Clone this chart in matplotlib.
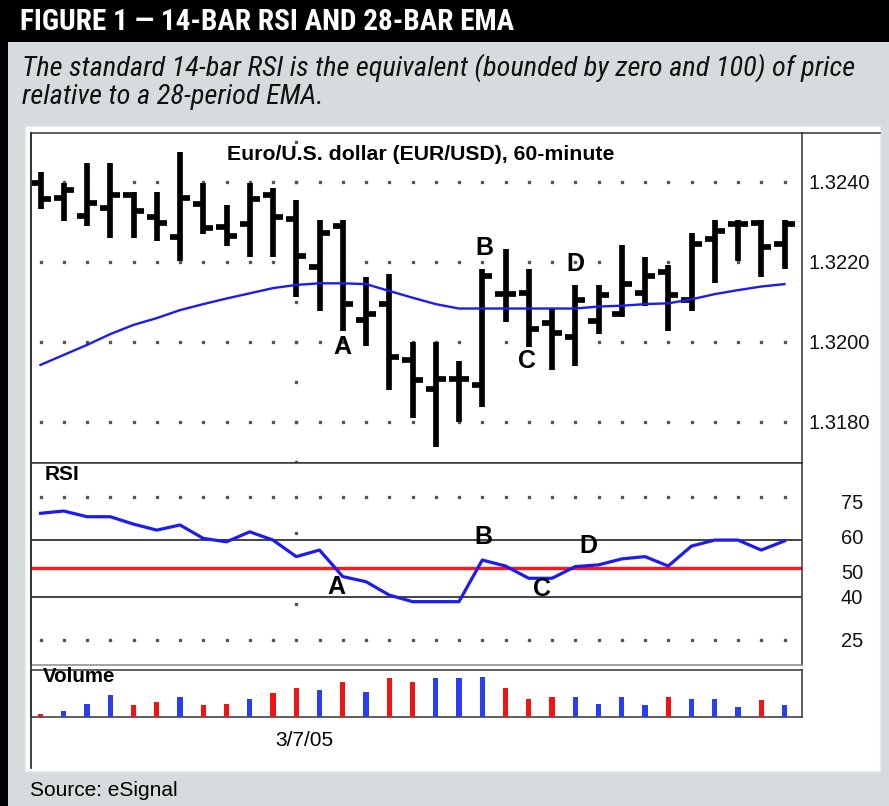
import matplotlib
matplotlib.use('Agg')
import matplotlib.pyplot as plt
from matplotlib import font_manager
from matplotlib.patches import Rectangle
from matplotlib.lines import Line2D
import matplotlib.transforms as mtransforms
import numpy as np

# ---------------- data ----------------
opens = [1.32398, 1.32359, 1.32314, 1.32334, 1.32367, 1.32313, 1.32263, 1.32344, 1.32286, 1.32294,
         1.32367, 1.32306, 1.32188, 1.32289, 1.32054, 1.32094, 1.31954, 1.31883, 1.31906, 1.31892,
         1.32119, 1.32123, 1.32048, 1.32013, 1.32053, 1.32069, 1.32123, 1.32175, 1.32104, 1.32256,
         1.32294, 1.32298, 1.32244]
highs = [1.32425, 1.32398, 1.32446, 1.32446, 1.32375, 1.32375, 1.32475, 1.32398, 1.32342, 1.32396,
         1.32384, 1.32354, 1.32304, 1.32304, 1.32163, 1.32169, 1.32000, 1.32000, 1.31953, 1.32183,
         1.32233, 1.32183, 1.32081, 1.32142, 1.32142, 1.32242, 1.32213, 1.32192, 1.32271, 1.32304,
         1.32304, 1.32304, 1.32304]
lows = [1.32331, 1.32302, 1.32289, 1.32260, 1.32260, 1.32252, 1.32203, 1.32269, 1.32239, 1.32211,
        1.32211, 1.32111, 1.32078, 1.32028, 1.31989, 1.31879, 1.31809, 1.31738, 1.31800, 1.31838,
        1.32050, 1.31988, 1.31929, 1.31939, 1.32019, 1.32061, 1.32090, 1.32028, 1.32078, 1.32148,
        1.32203, 1.32161, 1.32181]
closes = [1.32356, 1.32379, 1.32346, 1.32367, 1.32327, 1.32296, 1.32359, 1.32285, 1.32264, 1.32356,
          1.32313, 1.32214, 1.32271, 1.32094, 1.32069, 1.31963, 1.31904, 1.31906, 1.31906, 1.32164,
          1.32119, 1.32031, 1.32023, 1.32104, 1.32117, 1.32144, 1.32164, 1.32117, 1.32244, 1.32278,
          1.32294, 1.32236, 1.32294]
ema28 = [1.31942, 1.31967, 1.31992, 1.32019, 1.32042, 1.32059, 1.32079, 1.32094, 1.32108, 1.32121,
         1.32134, 1.32142, 1.32146, 1.32146, 1.32144, 1.32127, 1.32110, 1.32094, 1.32083, 1.32083,
         1.32083, 1.32083, 1.32083, 1.32083, 1.32088, 1.32090, 1.32094, 1.32096, 1.32106, 1.32119,
         1.32129, 1.32138, 1.32144]
rsi14 = [69.3, 70.1, 68.1, 68.1, 65.5, 63.4, 65.2, 60.5, 59.3, 62.8, 59.9, 54.1, 56.4, 47.1, 45.3,
         40.6, 38.3, 38.3, 38.3, 52.9, 50.8, 46.5, 46.5, 50.6, 51.2, 53.3, 54.1, 50.8, 57.8, 59.9,
         59.9, 56.4, 59.6]
volume = [330, 570, 1330, 2230, 1170, 1500, 2000, 1170, 1330, 1830, 2400, 2870, 2700, 3500, 2500,
          3900, 3500, 3900, 3900, 4030, 2870, 1830, 2000, 2000, 1330, 2000, 1170, 2000, 1830, 1830,
          1030, 1700, 1200]
vol_dir = ['d', 'u', 'u', 'u', 'd', 'd', 'u', 'd', 'd', 'u', 'd', 'd', 'u', 'd', 'u', 'd', 'd',
           'u', 'u', 'u', 'd', 'd', 'd', 'u', 'u', 'u', 'u', 'd', 'u', 'u', 'u', 'd', 'u']
price_ticks = [1.3180, 1.3200, 1.3220, 1.3240]
rsi_ticks = [25, 40, 50, 60, 75]
rsi_levels = [40, 60]
rsi_mid = 50
session_start = 11          # bar index where 3/7/05 begins
date_label = '3/7/05'
price_marks = {'A': (13.0, 1.31986), 'B': (19.08, 1.32235), 'C': (20.94, 1.31952), 'D': (22.99, 1.32194)}
rsi_marks = {'A': (12.74, 43.5), 'B': (19.05, 61.0), 'C': (21.56, 42.9), 'D': (23.56, 57.8)}

title_text = 'FIGURE 1 \u2014 14-BAR RSI AND 28-BAR EMA'
sub_line1 = 'The standard 14-bar RSI is the equivalent (bounded by zero and 100) of price'
sub_line2 = 'relative to a 28-period EMA.'
chart_title = 'Euro/U.S. dollar (EUR/USD), 60-minute'
source_text = 'Source: eSignal'

# ---------------- figure ----------------
W, H = 889, 806
fig = plt.figure(figsize=(W / 100, H / 100), dpi=100)
GRAY = '#d6dcdd'
fig.patch.set_facecolor(GRAY)

def fx(x):
    return x / W

def fy(y):
    return 1 - y / H

BASE = 'Liberation Sans'
names = {f.name for f in font_manager.fontManager.ttflist}
narrow_kw = {'family': BASE}
for cand in ['Liberation Sans Narrow', 'Arial Narrow', 'Roboto Condensed', 'Open Sans Condensed']:
    if cand in names:
        narrow_kw = {'family': cand}
        break
else:
    if any(f.name == 'DejaVu Sans' and f.stretch == 'condensed' for f in font_manager.fontManager.ttflist):
        narrow_kw = {'family': 'DejaVu Sans', 'stretch': 'condensed'}

# background blocks
fig.add_artist(Rectangle((0, fy(42)), 1, 42 / H, transform=fig.transFigure,
                         facecolor='black', edgecolor='none', zorder=-5))
fig.add_artist(Rectangle((0, 0), 8 / W, 1, transform=fig.transFigure,
                         facecolor='black', edgecolor='none', zorder=-5))
fig.add_artist(Rectangle((fx(25), fy(771)), 855 / W, 645 / H, transform=fig.transFigure,
                         facecolor='white', edgecolor='#e8ecec', lw=1, zorder=-5))

renderer = fig.canvas.get_renderer()

def fit_text(t, target_px):
    bb = t.get_window_extent(renderer)
    t.set_fontsize(t.get_fontsize() * target_px / bb.width)

t1 = fig.text(fx(20), fy(22), title_text, color='white', fontweight='bold', fontsize=16,
              va='center', ha='left', **narrow_kw)
fit_text(t1, 494)
s1 = fig.text(fx(22), fy(68), sub_line1, color='#111111', style='italic', fontsize=16,
              va='center', ha='left', **narrow_kw)
fit_text(s1, 834)
fig.text(fx(22), fy(97), sub_line2, color='#111111', style='italic', fontsize=s1.get_fontsize(),
         va='center', ha='left', **narrow_kw)

# ---------------- axes ----------------
L, R = 31, 802
ax_p = fig.add_axes([fx(L), fy(463), (R - L) / W, (463 - 133) / H])
ax_r = fig.add_axes([fx(L), fy(665), (R - L) / W, (665 - 463) / H])
ax_v = fig.add_axes([fx(L), fy(717), (R - L) / W, (717 - 670) / H])

n = len(opens)
k = np.arange(n)
x0, step = 40.5, 23.25
xlim = ((L - x0) / step, (R - x0) / step)

for ax in (ax_p, ax_r, ax_v):
    ax.set_xlim(*xlim)
    ax.set_facecolor('white')
    ax.set_xticks([])
    for s in ax.spines.values():
        s.set_color('#333333')
        s.set_linewidth(1.1)

DOT = '#555555'
# price panel
ax_p.set_ylim(1.316968, 1.325218)
for lvl in price_ticks:
    ax_p.plot(k, [lvl] * n, ls='none', marker='s', ms=1.5, color=DOT, zorder=1)
sep_lv = np.arange(1.3170, 1.3252, 0.0010)
ax_p.plot([session_start] * len(sep_lv), sep_lv, ls='none', marker='s', ms=1.5, color=DOT, zorder=1)
BAR_LW = 4.1
ax_p.vlines(k, lows, highs, color='black', lw=BAR_LW, zorder=3)
tick_len = 0.44
ax_p.hlines(opens, k - tick_len, k, color='black', lw=BAR_LW, zorder=3)
ax_p.hlines(closes, k, k + tick_len, color='black', lw=BAR_LW, zorder=3)
ax_p.plot(k, ema28, color='#1c1cf0', lw=1.7, zorder=4)
ax_p.yaxis.tick_right()
ax_p.set_yticks(price_ticks)
ax_p.set_yticklabels([f'{v:.4f}' for v in price_ticks])
ax_p.tick_params(axis='y', length=0, pad=5, labelsize=14.5, labelcolor='#111111')
for lab in ax_p.get_yticklabels():
    lab.set_family(BASE)
ax_p.text(fx(421), fy(154), chart_title, transform=fig.transFigure, ha='center', va='center',
          fontsize=15.3, fontweight='bold', family=BASE, zorder=6)
for letter, (xi, yv) in price_marks.items():
    ax_p.text(xi, yv, letter, ha='center', va='center', fontsize=18, fontweight='bold',
              family=BASE, zorder=6)

# RSI panel
ax_r.set_ylim(16.07, 86.95)
for lvl in (75, 25):
    ax_r.plot(k, [lvl] * n, ls='none', marker='s', ms=1.5, color=DOT, zorder=1)
ax_r.plot([session_start] * 2, [62.5, 37.5], ls='none', marker='s', ms=1.5, color=DOT, zorder=1)
for lvl in rsi_levels:
    ax_r.axhline(lvl, color='#222222', lw=1.2, zorder=2)
ax_r.axhline(rsi_mid, color='#ff1a1a', lw=2.4, zorder=2)
ax_r.plot(k, rsi14, color='#1c1cf0', lw=2.3, zorder=4)
ax_r.yaxis.tick_right()
ax_r.set_yticks(rsi_ticks)
ax_r.set_yticklabels([str(v) for v in rsi_ticks])
ax_r.tick_params(axis='y', length=0, pad=28, labelsize=14.5, labelcolor='#111111')
# small vertical nudges seen in the reference labels (points)
nudge = {75: -3.0, 60: 2.5, 50: -2.0, 40: 0.0, 25: 0.0}
for lab, v in zip(ax_r.get_yticklabels(), rsi_ticks):
    lab.set_family(BASE)
    lab.set_transform(lab.get_transform() +
                      mtransforms.ScaledTranslation(0, nudge[v] / 72, fig.dpi_scale_trans))
ax_r.spines['bottom'].set_color('#888888')
for letter, (xi, yv) in rsi_marks.items():
    ax_r.text(xi, yv, letter, ha='center', va='center', fontsize=18, fontweight='bold',
              family=BASE, zorder=6)
fig.text(fx(45), fy(474.5), 'RSI', ha='left', va='center', fontsize=15, fontweight='bold', family=BASE)

# volume panel
ax_v.set_ylim(0, 4700)
ax_v.set_yticks([])
vcol = ['#2a3df0' if d == 'u' else '#f01414' for d in vol_dir]
ax_v.bar(k, volume, width=0.22, color=vcol, zorder=3)
fig.text(fx(43), fy(676), 'Volume', ha='left', va='center', fontsize=14.8, fontweight='bold', family=BASE)

# frame extensions
fig.add_artist(Line2D([fx(30.5), fx(30.5)], [fy(133), fy(768)], transform=fig.transFigure,
                      color='#333333', lw=1.3))
fig.add_artist(Line2D([fx(R), fx(880)], [fy(133), fy(133)], transform=fig.transFigure,
                      color='#333333', lw=1.1))

fig.text(fx(304), fy(741), date_label, ha='center', va='center', fontsize=15, family=BASE)
fig.text(fx(30), fy(790), source_text, ha='left', va='center', fontsize=15, family=BASE)

fig.savefig('out.png', dpi=100, facecolor=GRAY)
